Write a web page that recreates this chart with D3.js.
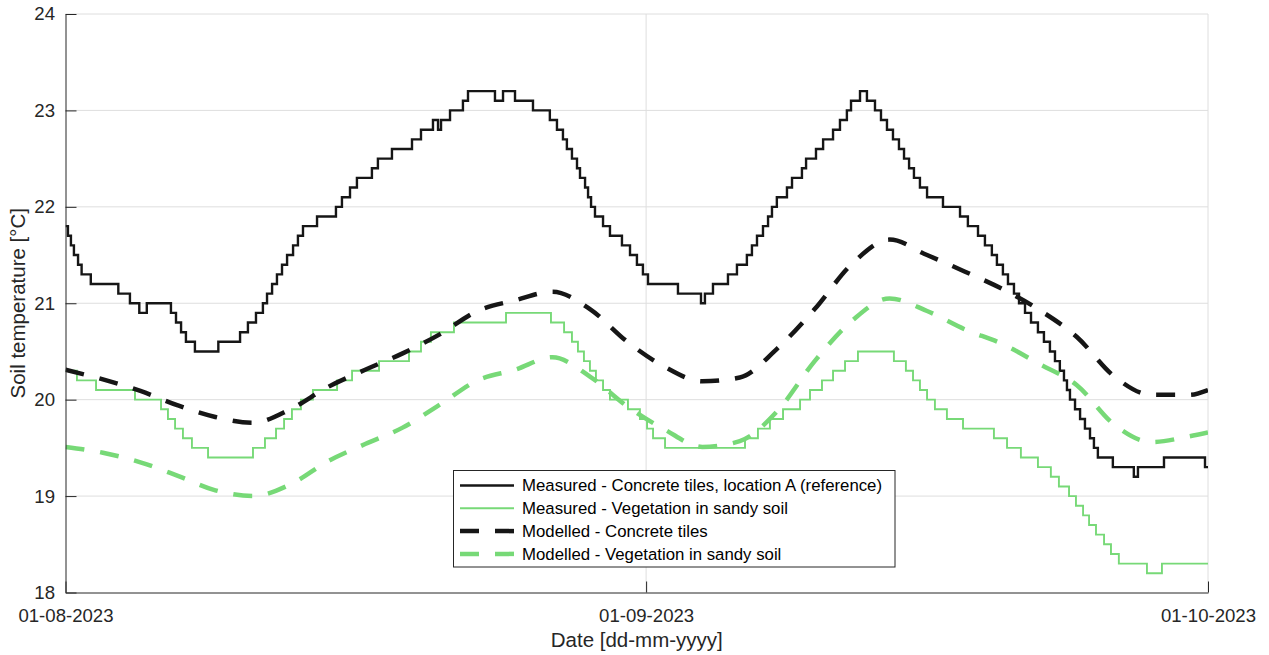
<!DOCTYPE html>
<html>
<head>
<meta charset="utf-8">
<script src="https://cdn.jsdelivr.net/npm/d3@7"></script>
<style>
  html, body { margin: 0; padding: 0; background: #ffffff; }
  svg { display: block; font-family: "Liberation Sans", Arial, Helvetica, sans-serif; }
</style>
</head>
<body>
<svg id="chart" width="1269" height="655"></svg>
<script>
// ---- Data -------------------------------------------------------------
// Days are counted from 01-08-2023 00:00; measured values hold until the next entry.
const measuredConcreteDays = [
  0, 0.13, 0.29, 0.45, 0.67, 0.86, 1.35, 2.82, 3.44, 3.94, 4.34, 5.63, 5.90, 6.17, 6.43, 6.91,
  8.16, 9.32, 9.74, 10.17, 10.54, 10.76, 11.03, 11.29, 11.56, 11.83, 12.15, 12.41, 12.68, 13.43,
  14.44, 14.76, 15.19, 15.56, 16.36, 16.68, 17.43, 18.50, 18.98, 19.62, 19.89, 20.05, 20.53,
  21.22, 21.49, 22.93, 23.36, 24.00, 24.96, 25.86, 26.24, 26.56, 26.77, 27.04, 27.31, 27.47,
  27.74, 27.90, 28.06, 28.27, 28.70, 29.07, 29.71, 30.14, 30.51, 30.83, 31.10, 32.70, 33.93,
  34.14, 34.57, 35.37, 35.85, 36.38, 36.65, 36.92, 37.24, 37.51, 37.72, 37.98, 38.52, 38.79,
  39.32, 39.54, 40.07, 40.45, 40.98, 41.35, 41.72, 41.94, 42.42, 42.79, 43.22, 43.54, 43.86,
  44.18, 44.50, 44.77, 45.04, 45.30, 45.62, 46.00, 46.85, 47.76, 48.18, 48.72, 49.09, 49.46,
  49.73, 50.05, 50.32, 50.64, 50.91, 51.23, 51.55, 51.92, 52.24, 52.56, 52.83, 53.09, 53.31,
  53.47, 53.63, 53.90, 54.17, 54.43, 54.70, 54.91, 55.12, 55.92, 57.04, 57.26, 58.65, 60.84, 61
];
const measuredConcreteTemps = [
  21.8, 21.7, 21.6, 21.5, 21.4, 21.3, 21.2, 21.1, 21.0, 20.9, 21.0, 20.9, 20.8, 20.7, 20.6, 20.5,
  20.6, 20.7, 20.8, 20.9, 21.0, 21.1, 21.2, 21.3, 21.4, 21.5, 21.6, 21.7, 21.8, 21.9,
  22.0, 22.1, 22.2, 22.3, 22.4, 22.5, 22.6, 22.7, 22.8, 22.9, 22.8, 22.9, 23.0,
  23.1, 23.2, 23.1, 23.2, 23.1, 23.0, 22.9, 22.8, 22.7, 22.6, 22.5, 22.4, 22.3,
  22.2, 22.1, 22.0, 21.9, 21.8, 21.7, 21.6, 21.5, 21.4, 21.3, 21.2, 21.1, 21.0,
  21.1, 21.2, 21.3, 21.4, 21.5, 21.6, 21.7, 21.8, 21.9, 22.0, 22.1, 22.2, 22.3,
  22.4, 22.5, 22.6, 22.7, 22.8, 22.9, 23.0, 23.1, 23.2, 23.1, 23.0, 22.9, 22.8,
  22.7, 22.6, 22.5, 22.4, 22.3, 22.2, 22.1, 22.0, 21.9, 21.8, 21.7, 21.6, 21.5,
  21.4, 21.3, 21.2, 21.1, 21.0, 20.9, 20.8, 20.7, 20.6, 20.5, 20.4, 20.3, 20.2,
  20.1, 20.0, 19.9, 19.8, 19.7, 19.6, 19.5, 19.4, 19.3, 19.2, 19.3, 19.4, 19.3, 19.3
];

const measuredVegetationDays = [
  0, 0.61, 1.63, 3.71, 5.10, 5.47, 5.85, 6.27, 6.75, 7.61, 10.01, 10.65, 11.24, 11.67, 12.09,
  12.57, 13.21, 14.50, 15.30, 16.74, 18.34, 18.98, 19.51, 20.74, 23.52, 25.92, 26.62, 27.04,
  27.36, 27.68, 28.00, 28.32, 28.70, 29.07, 30.03, 30.67, 31.05, 31.37, 32.01, 36.28, 36.97,
  37.61, 38.31, 39.22, 39.75, 40.39, 40.98, 41.62, 42.31, 44.23, 44.87, 45.25, 45.62, 46.00,
  46.42, 47.06, 47.92, 49.57, 50.27, 51.01, 51.92, 52.61, 53.04, 53.58, 53.95, 54.33, 54.65,
  55.02, 55.45, 55.82, 56.24, 57.74, 58.54, 61
];
const measuredVegetationTemps = [
  20.3, 20.2, 20.1, 20.0, 19.9, 19.8, 19.7, 19.6, 19.5, 19.4, 19.5, 19.6, 19.7, 19.8, 19.9,
  20.0, 20.1, 20.2, 20.3, 20.4, 20.5, 20.6, 20.7, 20.8, 20.9, 20.8, 20.7, 20.6,
  20.5, 20.4, 20.3, 20.2, 20.1, 20.0, 19.9, 19.8, 19.7, 19.6, 19.5, 19.6, 19.7,
  19.8, 19.9, 20.0, 20.1, 20.2, 20.3, 20.4, 20.5, 20.4, 20.3, 20.2, 20.1, 20.0,
  19.9, 19.8, 19.7, 19.6, 19.5, 19.4, 19.3, 19.2, 19.1, 19.0, 18.9, 18.8, 18.7,
  18.6, 18.5, 18.4, 18.3, 18.2, 18.3, 18.3
];

const modelDays = [0, 2, 4, 6, 8, 10, 12, 14, 16, 18, 20, 22, 24, 26, 28, 30, 32, 34, 36, 38,
  40, 42, 44, 46, 48, 50, 52, 54, 56, 58, 60, 61];
const modelConcreteTemps = [20.31, 20.21, 20.09, 19.94, 19.82, 19.76, 19.90, 20.13, 20.31, 20.48,
  20.68, 20.92, 21.03, 21.12, 20.94, 20.60, 20.34, 20.19, 20.23, 20.53, 20.94, 21.41, 21.66,
  21.50, 21.33, 21.15, 20.93, 20.65, 20.24, 20.05, 20.05, 20.10];
const modelVegetationTemps = [19.51, 19.45, 19.35, 19.21, 19.06, 19.00, 19.12, 19.36, 19.54, 19.71,
  19.95, 20.20, 20.31, 20.44, 20.24, 19.93, 19.69, 19.51, 19.57, 19.88, 20.40, 20.82, 21.05,
  20.92, 20.73, 20.58, 20.37, 20.15, 19.74, 19.56, 19.62, 19.66];

const yTicks = [18, 19, 20, 21, 22, 23, 24];
const xTickDates = [new Date(Date.UTC(2023, 7, 1)), new Date(Date.UTC(2023, 8, 1)), new Date(Date.UTC(2023, 9, 1))];
const legendLabels = [
  "Measured - Concrete tiles, location A (reference)",
  "Measured - Vegetation in sandy soil",
  "Modelled - Concrete tiles",
  "Modelled - Vegetation in sandy soil"
];

// ---- Layout & styles --------------------------------------------------
const plot = { left: 65.5, right: 1208, top: 14, bottom: 592.5 };
const axisColor = "#262626";
const gridColor = "#dedede";
const green = "#77d977";
const black = "#161616";
const dash = "19,16";

const seriesStyles = [
  { color: black, width: 2.4, dash: null },
  { color: green, width: 1.9, dash: null },
  { color: black, width: 4.5, dash: dash },
  { color: green, width: 4.5, dash: dash }
];

const t0 = Date.UTC(2023, 7, 1);
const toDate = d => new Date(t0 + d * 864e5);

const x = d3.scaleUtc()
  .domain([xTickDates[0], xTickDates[2]])
  .range([plot.left, plot.right]);
const y = d3.scaleLinear()
  .domain([18, 24])
  .range([plot.bottom, plot.top]);

const svg = d3.select("#chart");

svg.append("defs").append("clipPath").attr("id", "plot-clip")
  .append("rect")
  .attr("x", plot.left).attr("y", plot.top)
  .attr("width", plot.right - plot.left).attr("height", plot.bottom - plot.top);

// ---- Grid -------------------------------------------------------------
const grid = svg.append("g").attr("class", "grid");
grid.selectAll("line.h").data(yTicks.filter(v => v > 18)).join("line")
  .attr("class", "h")
  .attr("x1", plot.left).attr("x2", plot.right)
  .attr("y1", d => y(d)).attr("y2", d => y(d))
  .attr("stroke", gridColor).attr("stroke-width", 1);
grid.selectAll("line.v").data(xTickDates.slice(1)).join("line")
  .attr("class", "v")
  .attr("x1", d => x(d)).attr("x2", d => x(d))
  .attr("y1", plot.top).attr("y2", plot.bottom)
  .attr("stroke", gridColor).attr("stroke-width", 1);

// ---- Series -----------------------------------------------------------
const zip = (days, temps) => days.map((d, i) => [d, temps[i]]);
const series = [
  { pts: zip(measuredConcreteDays, measuredConcreteTemps), curve: d3.curveStepAfter },
  { pts: zip(measuredVegetationDays, measuredVegetationTemps), curve: d3.curveStepAfter },
  { pts: zip(modelDays, modelConcreteTemps), curve: d3.curveMonotoneX },
  { pts: zip(modelDays, modelVegetationTemps), curve: d3.curveMonotoneX }
];

const lines = svg.append("g").attr("clip-path", "url(#plot-clip)");
series.forEach((s, i) => {
  const st = seriesStyles[i];
  const gen = d3.line()
    .x(p => x(toDate(p[0])))
    .y(p => y(p[1]))
    .curve(s.curve);
  lines.append("path")
    .attr("d", gen(s.pts))
    .attr("fill", "none")
    .attr("stroke", st.color)
    .attr("stroke-width", st.width)
    .attr("stroke-dasharray", st.dash)
    .attr("stroke-linejoin", "miter");
});

// ---- Axes -------------------------------------------------------------
const xAxis = d3.axisBottom(x)
  .tickValues(xTickDates)
  .tickFormat(d3.utcFormat("%d-%m-%Y"))
  .tickSizeInner(-11)
  .tickSizeOuter(0)
  .tickPadding(16);
const yAxis = d3.axisLeft(y)
  .tickValues(yTicks)
  .tickFormat(d3.format("d"))
  .tickSizeInner(-11)
  .tickSizeOuter(0)
  .tickPadding(10.5);

const gx = svg.append("g").attr("transform", `translate(0,${plot.bottom})`).call(xAxis);
const gy = svg.append("g").attr("transform", `translate(${plot.left},0)`).call(yAxis);
[gx, gy].forEach(g => {
  g.select(".domain").attr("stroke", axisColor).attr("stroke-width", 1);
  g.selectAll(".tick line").attr("stroke", axisColor).attr("stroke-width", 1);
  g.selectAll(".tick text")
    .attr("fill", axisColor)
    .style("font-size", "18.6px")
    .style("font-family", "\"Liberation Sans\", Arial, Helvetica, sans-serif");
});

// Axis titles
svg.append("text")
  .attr("x", (plot.left + plot.right) / 2)
  .attr("y", 647)
  .attr("text-anchor", "middle")
  .attr("fill", axisColor)
  .style("font-size", "20.5px")
  .text("Date [dd-mm-yyyy]");

svg.append("text")
  .attr("transform", `translate(25,${(plot.top + plot.bottom) / 2}) rotate(-90)`)
  .attr("text-anchor", "middle")
  .attr("fill", axisColor)
  .style("font-size", "20.5px")
  .text("Soil temperature [°C]");

// ---- Legend -----------------------------------------------------------
const legend = svg.append("g").attr("class", "legend");
legend.append("rect")
  .attr("x", 453.5).attr("y", 470.5)
  .attr("width", 441.5).attr("height", 96.5)
  .attr("fill", "#ffffff")
  .attr("stroke", axisColor).attr("stroke-width", 1);

legendLabels.forEach((label, i) => {
  const cy = 485.5 + i * 22.8;
  const st = seriesStyles[i];
  legend.append("line")
    .attr("x1", 460).attr("x2", 514)
    .attr("y1", cy).attr("y2", cy)
    .attr("stroke", st.color)
    .attr("stroke-width", st.width)
    .attr("stroke-dasharray", st.dash);
  legend.append("text")
    .attr("x", 522).attr("y", cy)
    .attr("dy", "0.35em")
    .attr("fill", "#000000")
    .style("font-size", "16.8px")
    .text(label);
});
</script>
</body>
</html>
